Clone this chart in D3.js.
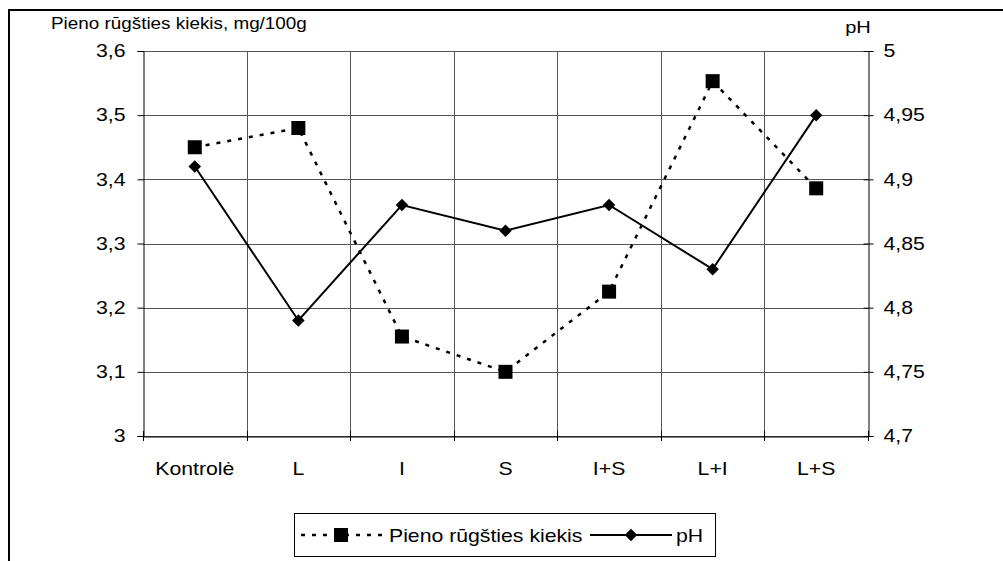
<!DOCTYPE html>
<html>
<head>
<meta charset="utf-8">
<script src="https://cdn.jsdelivr.net/npm/d3@7"></script>
<style>
  body { margin: 0; background: #fff; }
  svg text { font-family: "Liberation Sans", Arial, sans-serif; fill: #000; }
</style>
</head>
<body>
<svg id="chart" width="1003" height="561"></svg>
<script>
(function () {
  const categories = ["Kontrolė", "L", "I", "S", "I+S", "L+I", "L+S"];
  const acidValues = [3.45, 3.48, 3.155, 3.1, 3.225, 3.553, 3.386];
  const phValues = [4.91, 4.79, 4.88, 4.86, 4.88, 4.83, 4.95];
  const leftTicks = [3, 3.1, 3.2, 3.3, 3.4, 3.5, 3.6];
  const rightTicks = [4.7, 4.75, 4.8, 4.85, 4.9, 4.95, 5];

  const svg = d3.select("#chart");
  const plot = { left: 143, right: 868, top: 51, bottom: 436 };
  const stretchK = 1.18;
  const fmt = (v) => String(+v.toFixed(2)).replace(".", ",");

  // text in the original is a little wider than the plain font, stretch around its anchor
  function stretch(sel, k) {
    sel.each(function () {
      const x0 = +(this.getAttribute("x") || 0);
      d3.select(this).attr("transform", `translate(${x0 * (1 - k)},0) scale(${k},1)`);
    });
  }

  const x = d3.scaleBand().domain(categories).range([plot.left, plot.right]);
  const yLeft = d3.scaleLinear().domain([3, 3.6]).range([plot.bottom, plot.top]);
  const yRight = d3.scaleLinear().domain([4.7, 5]).range([plot.bottom, plot.top]);
  const cx = (d) => x(d) + x.bandwidth() / 2;

  // outer frame (clipped on right and bottom)
  svg.append("path")
    .attr("d", "M9,561 V10 H1003")
    .attr("fill", "none")
    .attr("stroke", "#000")
    .attr("stroke-width", 2);

  // grid
  const grid = svg.append("g").attr("stroke", "#555").attr("stroke-width", 1);
  grid.selectAll("line.h")
    .data(leftTicks)
    .join("line")
    .attr("x1", plot.left).attr("x2", plot.right)
    .attr("y1", (d) => Math.round(yLeft(d)) + 0.5)
    .attr("y2", (d) => Math.round(yLeft(d)) + 0.5);
  grid.selectAll("line.v")
    .data(categories.slice(1))
    .join("line")
    .attr("x1", (d) => Math.round(x(d)) + 0.5).attr("x2", (d) => Math.round(x(d)) + 0.5)
    .attr("y1", plot.top).attr("y2", plot.bottom);

  // axes
  const axisLeft = svg.append("g")
    .attr("transform", `translate(${plot.left + 0.5},0)`)
    .call(d3.axisLeft(yLeft).tickValues(leftTicks).tickFormat(fmt).tickSize(6).tickPadding(12));
  const axisRight = svg.append("g")
    .attr("transform", `translate(${plot.right + 0.5},0)`)
    .call(d3.axisRight(yRight).tickValues(rightTicks).tickFormat(fmt).tickSize(5).tickPadding(10));
  const axisBottom = svg.append("g")
    .attr("transform", `translate(0,${plot.bottom + 0.5})`)
    .call(d3.axisBottom(x).tickSize(0).tickPadding(26));

  [axisLeft, axisRight, axisBottom].forEach((g) => {
    g.select(".domain").attr("stroke", "#000");
    g.selectAll(".tick line").attr("stroke", "#000");
    g.selectAll("text").attr("font-size", 18).attr("font-family", "Liberation Sans, Arial, sans-serif");
    stretch(g.selectAll("text"), stretchK);
  });
  axisRight.selectAll(".tick line").attr("x1", -5);

  // boundary ticks on x axis
  svg.append("g").selectAll("line")
    .data(d3.range(categories.length + 1))
    .join("line")
    .attr("x1", (i) => Math.round(plot.left + i * x.bandwidth()) + 0.5)
    .attr("x2", (i) => Math.round(plot.left + i * x.bandwidth()) + 0.5)
    .attr("y1", plot.bottom - 5).attr("y2", plot.bottom + 5)
    .attr("stroke", "#000");

  // axis titles
  const leftTitle = svg.append("text").attr("x", 51).attr("y", 29).attr("font-size", 16)
    .text("Pieno rūgšties kiekis, mg/100g");
  const rightTitle = svg.append("text").attr("x", 858).attr("y", 33).attr("font-size", 17)
    .attr("text-anchor", "middle").text("pH");
  stretch(leftTitle, stretchK);
  stretch(rightTitle, stretchK);

  // series
  const acidLine = d3.line().x((d, i) => cx(categories[i])).y((d) => yLeft(d));
  const phLine = d3.line().x((d, i) => cx(categories[i])).y((d) => yRight(d));

  svg.append("path").datum(acidValues)
    .attr("d", acidLine).attr("fill", "none")
    .attr("stroke", "#000").attr("stroke-width", 2.5).attr("stroke-dasharray", "4,7");
  svg.append("path").datum(phValues)
    .attr("d", phLine).attr("fill", "none")
    .attr("stroke", "#000").attr("stroke-width", 2);

  svg.append("g").selectAll("rect")
    .data(acidValues)
    .join("rect")
    .attr("x", (d, i) => cx(categories[i]) - 7)
    .attr("y", (d) => yLeft(d) - 7)
    .attr("width", 14).attr("height", 14)
    .attr("fill", "#000");

  const diamond = d3.symbol().type(d3.symbolDiamond2).size(100);
  svg.append("g").selectAll("path")
    .data(phValues)
    .join("path")
    .attr("d", diamond)
    .attr("transform", (d, i) => `translate(${cx(categories[i])},${yRight(d)})`)
    .attr("fill", "#000");

  // legend
  const legend = svg.append("g").attr("transform", "translate(294,513)");
  legend.append("rect").attr("x", 0.5).attr("y", 0.5).attr("width", 421).attr("height", 43)
    .attr("fill", "#fff").attr("stroke", "#000");
  legend.append("line").attr("x1", 7).attr("x2", 88).attr("y1", 22).attr("y2", 22)
    .attr("stroke", "#000").attr("stroke-width", 2.5).attr("stroke-dasharray", "4,7");
  legend.append("rect").attr("x", 40).attr("y", 15).attr("width", 14).attr("height", 14).attr("fill", "#000");
  const legText1 = legend.append("text").attr("x", 95).attr("y", 29).attr("font-size", 18)
    .text("Pieno rūgšties kiekis");
  legend.append("line").attr("x1", 296).attr("x2", 378).attr("y1", 22).attr("y2", 22)
    .attr("stroke", "#000").attr("stroke-width", 2);
  legend.append("path").attr("d", diamond)
    .attr("transform", "translate(337,22)").attr("fill", "#000");
  const legText2 = legend.append("text").attr("x", 382).attr("y", 29).attr("font-size", 18).text("pH");
  stretch(legText1, stretchK);
  stretch(legText2, stretchK);
})();
</script>
</body>
</html>
